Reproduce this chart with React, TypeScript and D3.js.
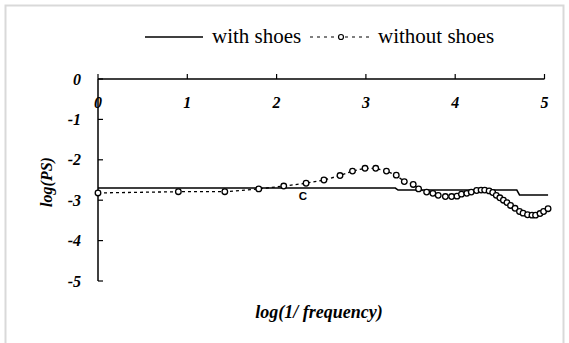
import React from "react";
import * as d3 from "d3";

const xTicks = [0, 1, 2, 3, 4, 5];
const yTicks = [0, -1, -2, -3, -4, -5];

const withShoesX = [0, 3.33, 3.36, 4.69, 4.72, 5.04];
const withShoesY = [-2.7, -2.7, -2.75, -2.75, -2.87, -2.87];

const withoutX = [0, 0.9, 1.42, 1.8, 2.08, 2.33, 2.53, 2.71, 2.85, 2.99, 3.11, 3.23, 3.34, 3.43, 3.53, 3.59, 3.68, 3.75, 3.81, 3.89, 3.96, 4.02, 4.07, 4.13, 4.18, 4.24, 4.29, 4.33, 4.38, 4.42, 4.46, 4.5, 4.54, 4.58, 4.62, 4.67, 4.72, 4.76, 4.81, 4.86, 4.9, 4.95, 4.99, 5.04];
const withoutY = [-2.82, -2.79, -2.79, -2.72, -2.65, -2.58, -2.5, -2.39, -2.28, -2.21, -2.21, -2.28, -2.38, -2.54, -2.61, -2.72, -2.8, -2.83, -2.88, -2.91, -2.91, -2.9, -2.85, -2.83, -2.8, -2.76, -2.75, -2.75, -2.77, -2.81, -2.88, -2.94, -3.0, -3.06, -3.13, -3.2, -3.28, -3.32, -3.36, -3.37, -3.37, -3.33, -3.28, -3.21];

const W = 569;
const H = 343;

export default function App() {
  const x = d3.scaleLinear().domain([0, 5]).range([98, 544.5]);
  const y = d3.scaleLinear().domain([0, -5]).range([79, 281]);

  const solid = d3.line<number>()
    .x((d, i) => x(withShoesX[i]))
    .y((d, i) => y(d))(withShoesY) || "";
  const dotted = d3.line<number>()
    .x((d, i) => x(withoutX[i]))
    .y((d, i) => y(d))(withoutY) || "";

  const serif = { fontFamily: "Liberation Serif" };
  const sans = { fontFamily: "Liberation Sans" };

  return (
    <svg width={W} height={H} style={{ position: "absolute", left: 0, top: 0 }}>
      <rect x={0} y={0} width={W} height={H} fill="#fff" />
      <rect x={5.5} y={5.5} width={558} height={360} fill="none" stroke="#d9d9d9" strokeWidth={2} />

      {/* legend */}
      <line x1={145} x2={203} y1={37} y2={37} stroke="#000" strokeWidth={1.5} />
      <text x={212} y={43} style={serif} fontSize={21}>with shoes</text>
      <line x1={310} x2={372} y1={37} y2={37} stroke="#000" strokeWidth={1.2} strokeDasharray="3,4" />
      <circle cx={341} cy={37} r={2.5} fill="#fff" stroke="#000" strokeWidth={1.2} />
      <text x={378} y={43} style={serif} fontSize={21}>without shoes</text>

      {/* x axis */}
      <line x1={x(0)} x2={x(5)} y1={y(0)} y2={y(0)} stroke="#000" strokeWidth={1.5} />
      {xTicks.map((t) => (
        <g key={"xt" + t}>
          <line x1={x(t)} x2={x(t)} y1={y(0)} y2={y(0) - 5} stroke="#000" strokeWidth={1.2} />
          <text x={x(t)} y={108} textAnchor="middle" style={serif} fontSize={16} fontStyle="italic" fontWeight="bold">{t}</text>
        </g>
      ))}

      {/* y axis */}
      <line x1={x(0)} x2={x(0)} y1={y(0)} y2={y(-5)} stroke="#000" strokeWidth={1.5} />
      {yTicks.map((t) => (
        <g key={"yt" + t}>
          <line x1={x(0)} x2={x(0) + 5} y1={y(t)} y2={y(t)} stroke="#000" strokeWidth={1.2} />
          <text x={81} y={y(t) + 5.5} textAnchor="end" style={serif} fontSize={16} fontStyle="italic" fontWeight="bold">{t === 0 ? "0" : "-" + Math.abs(t)}</text>
        </g>
      ))}

      {/* series */}
      <path d={solid} fill="none" stroke="#000" strokeWidth={1.5} />
      <path d={dotted} fill="none" stroke="#000" strokeWidth={1.3} strokeDasharray="3,3" />
      {withoutY.map((v, i) => (
        <circle key={"p" + i} cx={x(withoutX[i])} cy={y(v)} r={2.8} fill="#fff" stroke="#000" strokeWidth={1.3} />
      ))}

      <text x={303} y={200} textAnchor="middle" style={sans} fontSize={11.5} fontWeight="bold">C</text>

      {/* axis titles */}
      <text transform="translate(52,182) rotate(-90)" textAnchor="middle" style={serif} fontSize={16} fontStyle="italic" fontWeight="bold">log(PS)</text>
      <text x={319} y={318} textAnchor="middle" style={serif} fontSize={18} fontStyle="italic" fontWeight="bold">log(1/ frequency)</text>
    </svg>
  );
}
